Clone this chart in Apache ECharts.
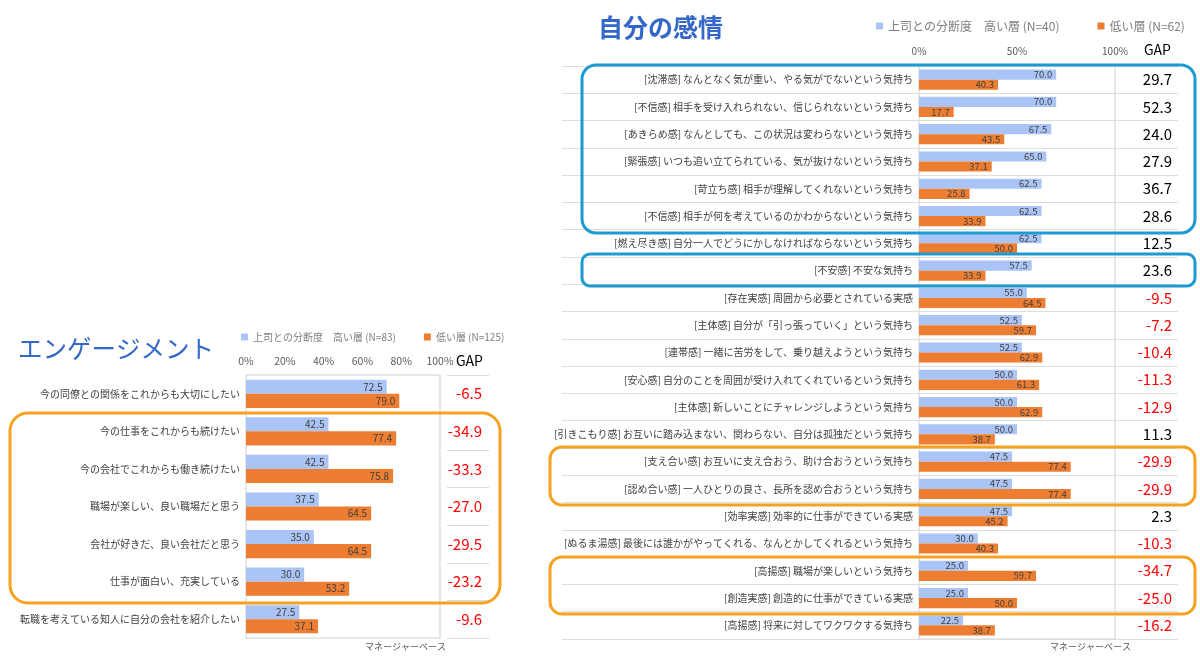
<!DOCTYPE html>
<html><head><meta charset="utf-8">
<script src="https://cdn.jsdelivr.net/npm/echarts@6/dist/echarts.min.js"></script>
<style>html,body{margin:0;padding:0;background:#fff}#c{width:1200px;height:659px}</style>
</head><body><div id="c"></div>
<script>
const FONT = '"Noto Sans CJK JP", "Noto Sans", sans-serif';

// ---- エンゲージメント ----
const engCategories = [
  '今の同僚との関係をこれからも大切にしたい',
  '今の仕事をこれからも続けたい',
  '今の会社でこれからも働き続けたい',
  '職場が楽しい、良い職場だと思う',
  '会社が好きだ、良い会社だと思う',
  '仕事が面白い、充実している',
  '転職を考えている知人に自分の会社を紹介したい'
];
const engHigh = [72.5, 42.5, 42.5, 37.5, 35.0, 30.0, 27.5];
const engLow  = [79.0, 77.4, 75.8, 64.5, 64.5, 53.2, 37.1];
const engGap  = [-6.5, -34.9, -33.3, -27.0, -29.5, -23.2, -9.6];
const engHighName = '上司との分断度　高い層 (N=83)';
const engLowName  = '低い層 (N=125)';

// ---- 自分の感情 ----
const emoCategories = [
  '[沈滞感] なんとなく気が重い、やる気がでないという気持ち',
  '[不信感] 相手を受け入れられない、信じられないという気持ち',
  '[あきらめ感] なんとしても、この状況は変わらないという気持ち',
  '[緊張感] いつも追い立てられている、気が抜けないという気持ち',
  '[苛立ち感] 相手が理解してくれないという気持ち',
  '[不信感] 相手が何を考えているのかわからないという気持ち',
  '[燃え尽き感] 自分一人でどうにかしなければならないという気持ち',
  '[不安感] 不安な気持ち',
  '[存在実感] 周囲から必要とされている実感',
  '[主体感] 自分が「引っ張っていく」という気持ち',
  '[連帯感] 一緒に苦労をして、乗り越えようという気持ち',
  '[安心感] 自分のことを周囲が受け入れてくれているという気持ち',
  '[主体感] 新しいことにチャレンジしようという気持ち',
  '[引きこもり感] お互いに踏み込まない、関わらない、自分は孤独だという気持ち',
  '[支え合い感] お互いに支え合おう、助け合おうという気持ち',
  '[認め合い感] 一人ひとりの良さ、長所を認め合おうという気持ち',
  '[効率実感] 効率的に仕事ができている実感',
  '[ぬるま湯感] 最後には誰かがやってくれる、なんとかしてくれるという気持ち',
  '[高揚感] 職場が楽しいという気持ち',
  '[創造実感] 創造的に仕事ができている実感',
  '[高揚感] 将来に対してワクワクする気持ち'
];
const emoHigh = [70.0, 70.0, 67.5, 65.0, 62.5, 62.5, 62.5, 57.5, 55.0, 52.5, 52.5, 50.0, 50.0, 50.0, 47.5, 47.5, 47.5, 30.0, 25.0, 25.0, 22.5];
const emoLow  = [40.3, 17.7, 43.5, 37.1, 25.8, 33.9, 50.0, 33.9, 64.5, 59.7, 62.9, 61.3, 62.9, 38.7, 77.4, 77.4, 45.2, 40.3, 59.7, 50.0, 38.7];
const emoGap  = [29.7, 52.3, 24.0, 27.9, 36.7, 28.6, 12.5, 23.6, -9.5, -7.2, -10.4, -11.3, -12.9, 11.3, -29.9, -29.9, 2.3, -10.3, -34.7, -25.0, -16.2];
const emoHighName = '上司との分断度　高い層 (N=40)';
const emoLowName  = '低い層 (N=62)';

const BLUE = '#AAC4F6', ORANGE = '#ED7D31';
const fmtGap = v => v.toFixed(1);
const gapColor = v => (parseFloat(v) < 0 ? '#FF0000' : '#000000');

const chart = echarts.init(document.getElementById('c'), null, {renderer: 'canvas'});

const hiddenCat = (grid, data, splitColor) => ({
  type: 'category', gridIndex: grid, data: data, inverse: true,
  axisLine: {show: false}, axisTick: {show: false}, axisLabel: {show: false},
  splitLine: {show: true, lineStyle: {color: splitColor, width: 1}}
});
const hiddenVal = grid => ({type: 'value', gridIndex: grid, min: 0, max: 100, show: false});

const barLabel = size => ({show: true, position: 'insideRight', distance: 4, color: '#404040', fontSize: size, fontFamily: FONT, formatter: p => p.value.toFixed(1)});

chart.setOption({
  backgroundColor: '#ffffff',
  textStyle: {fontFamily: FONT},
  animation: false,
  title: [
    {text: 'エンゲージメント', left: 13, top: 331, textStyle: {fontSize: 24.5, fontWeight: 'normal', color: '#3468C8', fontFamily: FONT}},
    {text: '自分の感情', left: 593, top: 10, textStyle: {fontSize: 25, fontWeight: 'bold', color: '#3468C8', fontFamily: FONT}}
  ],
  legend: [
    {data: [engHighName, engLowName], left: 236, top: 327, icon: 'rect', itemWidth: 7, itemHeight: 7, itemGap: 28,
     textStyle: {fontSize: 10, color: '#7F7F7F', fontFamily: FONT}, selectedMode: false},
    {data: [emoHighName, emoLowName], left: 871, top: 15, icon: 'rect', itemWidth: 7, itemHeight: 7, itemGap: 38,
     textStyle: {fontSize: 12, color: '#7F7F7F', fontFamily: FONT}, selectedMode: false}
  ],
  grid: [
    {left: 246, top: 375, width: 194, height: 263, show: true, borderColor: '#D0D0D0', borderWidth: 1, backgroundColor: 'transparent'},
    {left: 447, top: 375, width: 42, height: 263},
    {left: 919, top: 66, width: 196, height: 573, show: true, borderColor: '#D0D0D0', borderWidth: 1, backgroundColor: 'transparent'},
    {left: 562, top: 66, width: 616, height: 573}
  ],
  xAxis: [
    {type: 'value', gridIndex: 0, min: 0, max: 100, interval: 20, position: 'top',
     axisLine: {show: false}, axisTick: {show: false}, splitLine: {show: false},
     axisLabel: {formatter: '{value}%', fontSize: 10.5, color: '#595959', margin: 9, fontFamily: FONT}},
    hiddenVal(1),
    {type: 'value', gridIndex: 2, min: 0, max: 100, interval: 50, position: 'top',
     axisLine: {show: false}, axisTick: {show: false}, splitLine: {show: false},
     axisLabel: {formatter: '{value}%', fontSize: 10, color: '#595959', margin: 10, fontFamily: FONT}},
    hiddenVal(3)
  ],
  yAxis: [
    {type: 'category', gridIndex: 0, data: engCategories, inverse: true,
     axisLine: {show: false}, axisTick: {show: false}, splitLine: {show: false},
     axisLabel: {fontSize: 10, color: '#404040', margin: 6, fontFamily: FONT}},
    {type: 'category', gridIndex: 0, data: engGap.map(fmtGap), inverse: true, position: 'right',
     axisLine: {show: false}, axisTick: {show: false}, splitLine: {show: false},
     axisLabel: {fontSize: 15, align: 'right', margin: 42, color: gapColor, fontFamily: FONT}},
    hiddenCat(1, engCategories, '#D9D9D9'),
    {type: 'category', gridIndex: 2, data: emoCategories, inverse: true,
     axisLine: {show: false}, axisTick: {show: false}, splitLine: {show: false},
     axisLabel: {fontSize: 10, color: '#404040', margin: 6, fontFamily: FONT}},
    {type: 'category', gridIndex: 2, data: emoGap.map(fmtGap), inverse: true, position: 'right',
     axisLine: {show: false}, axisTick: {show: false}, splitLine: {show: false},
     axisLabel: {fontSize: 15, align: 'right', margin: 57, color: gapColor, fontFamily: FONT}},
    hiddenCat(3, emoCategories, '#DEDEDE')
  ],
  series: [
    {name: engHighName, type: 'bar', xAxisIndex: 0, yAxisIndex: 0, data: engHigh, itemStyle: {color: BLUE},
     barGap: '0%', barCategoryGap: '25%', label: barLabel(10)},
    {name: engLowName, type: 'bar', xAxisIndex: 0, yAxisIndex: 0, data: engLow, itemStyle: {color: ORANGE},
     label: barLabel(10)},
    {name: emoHighName, type: 'bar', xAxisIndex: 2, yAxisIndex: 3, data: emoHigh, itemStyle: {color: BLUE},
     barGap: '0%', barCategoryGap: '26%', label: barLabel(9.5)},
    {name: emoLowName, type: 'bar', xAxisIndex: 2, yAxisIndex: 3, data: emoLow, itemStyle: {color: ORANGE},
     label: barLabel(9.5)}
  ],
  graphic: [
    {type: 'rect', z: 100, shape: {x: 10, y: 413, width: 490, height: 190, r: 18}, style: {fill: 'none', stroke: '#F6A21E', lineWidth: 3}},
    {type: 'rect', z: 100, shape: {x: 582, y: 65, width: 613, height: 168, r: 14}, style: {fill: 'none', stroke: '#1C9AD1', lineWidth: 3}},
    {type: 'rect', z: 100, shape: {x: 582, y: 254, width: 613, height: 32, r: 8}, style: {fill: 'none', stroke: '#1C9AD1', lineWidth: 3}},
    {type: 'rect', z: 100, shape: {x: 550, y: 447, width: 645, height: 58, r: 12}, style: {fill: 'none', stroke: '#F6A21E', lineWidth: 3}},
    {type: 'rect', z: 100, shape: {x: 550, y: 557, width: 645, height: 57, r: 12}, style: {fill: 'none', stroke: '#F6A21E', lineWidth: 3}},
    {type: 'text', z: 100, x: 456, y: 354, style: {text: 'GAP', fontSize: 14, fill: '#000', fontFamily: FONT}},
    {type: 'text', z: 100, x: 1144, y: 43, style: {text: 'GAP', fontSize: 14, fill: '#000', fontFamily: FONT}},
    {type: 'text', z: 100, x: 365, y: 642, style: {text: 'マネージャーベース', fontSize: 9, fill: '#595959', fontFamily: FONT}},
    {type: 'text', z: 100, x: 1050, y: 642, style: {text: 'マネージャーベース', fontSize: 9, fill: '#595959', fontFamily: FONT}}
  ]
});
</script></body></html>
